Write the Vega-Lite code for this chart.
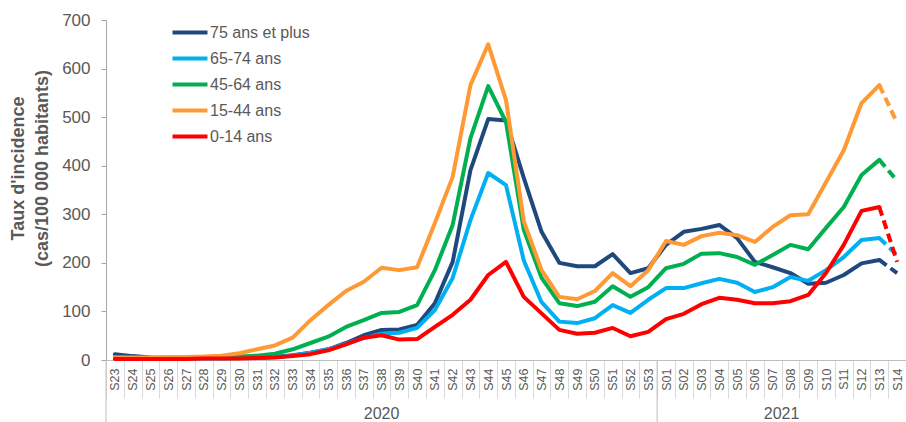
{
  "$schema": "https://vega.github.io/schema/vega-lite/v6.json",
  "width": 800,
  "height": 340,
  "autosize": {"type": "none"},
  "padding": {"left": 106, "top": 20, "right": 0, "bottom": 62},
  "background": "white",
  "config": {
    "font": "Liberation Sans",
    "view": {"stroke": null},
    "axis": {"grid": false}
  },
  "datasets": {
    "taux": [
      {"week": "S23", "75 ans et plus": 12, "65-74 ans": 5, "45-64 ans": 4, "15-44 ans": 5, "0-14 ans": 2},
      {"week": "S24", "75 ans et plus": 8, "65-74 ans": 4, "45-64 ans": 4, "15-44 ans": 5, "0-14 ans": 2},
      {"week": "S25", "75 ans et plus": 5, "65-74 ans": 3, "45-64 ans": 4, "15-44 ans": 5, "0-14 ans": 2},
      {"week": "S26", "75 ans et plus": 4, "65-74 ans": 3, "45-64 ans": 4, "15-44 ans": 6, "0-14 ans": 2},
      {"week": "S27", "75 ans et plus": 4, "65-74 ans": 3, "45-64 ans": 5, "15-44 ans": 6, "0-14 ans": 2},
      {"week": "S28", "75 ans et plus": 4, "65-74 ans": 3, "45-64 ans": 5, "15-44 ans": 7, "0-14 ans": 3},
      {"week": "S29", "75 ans et plus": 4, "65-74 ans": 3, "45-64 ans": 6, "15-44 ans": 9, "0-14 ans": 3},
      {"week": "S30", "75 ans et plus": 4, "65-74 ans": 4, "45-64 ans": 7, "15-44 ans": 14, "0-14 ans": 3},
      {"week": "S31", "75 ans et plus": 5, "65-74 ans": 4, "45-64 ans": 9, "15-44 ans": 22, "0-14 ans": 4},
      {"week": "S32", "75 ans et plus": 6, "65-74 ans": 6, "45-64 ans": 13, "15-44 ans": 30, "0-14 ans": 5},
      {"week": "S33", "75 ans et plus": 10, "65-74 ans": 9, "45-64 ans": 22, "15-44 ans": 46, "0-14 ans": 8},
      {"week": "S34", "75 ans et plus": 15, "65-74 ans": 15, "45-64 ans": 35, "15-44 ans": 82, "0-14 ans": 12},
      {"week": "S35", "75 ans et plus": 22, "65-74 ans": 22, "45-64 ans": 48, "15-44 ans": 113, "0-14 ans": 20},
      {"week": "S36", "75 ans et plus": 35, "65-74 ans": 33, "45-64 ans": 68, "15-44 ans": 142, "0-14 ans": 32},
      {"week": "S37", "75 ans et plus": 51, "65-74 ans": 45, "45-64 ans": 82, "15-44 ans": 161, "0-14 ans": 46},
      {"week": "S38", "75 ans et plus": 62, "65-74 ans": 54, "45-64 ans": 97, "15-44 ans": 190, "0-14 ans": 51},
      {"week": "S39", "75 ans et plus": 63, "65-74 ans": 56, "45-64 ans": 99, "15-44 ans": 185, "0-14 ans": 42},
      {"week": "S40", "75 ans et plus": 72, "65-74 ans": 66, "45-64 ans": 113, "15-44 ans": 191, "0-14 ans": 43},
      {"week": "S41", "75 ans et plus": 117, "65-74 ans": 103, "45-64 ans": 185, "15-44 ans": 282, "0-14 ans": 68},
      {"week": "S42", "75 ans et plus": 202, "65-74 ans": 169, "45-64 ans": 278, "15-44 ans": 377, "0-14 ans": 93},
      {"week": "S43", "75 ans et plus": 391, "65-74 ans": 288, "45-64 ans": 457, "15-44 ans": 566, "0-14 ans": 124},
      {"week": "S44", "75 ans et plus": 496, "65-74 ans": 385, "45-64 ans": 564, "15-44 ans": 650, "0-14 ans": 175},
      {"week": "S45", "75 ans et plus": 493, "65-74 ans": 360, "45-64 ans": 490, "15-44 ans": 535, "0-14 ans": 202},
      {"week": "S46", "75 ans et plus": 375, "65-74 ans": 205, "45-64 ans": 268, "15-44 ans": 286, "0-14 ans": 130},
      {"week": "S47", "75 ans et plus": 264, "65-74 ans": 119, "45-64 ans": 169, "15-44 ans": 185, "0-14 ans": 96},
      {"week": "S48", "75 ans et plus": 200, "65-74 ans": 79, "45-64 ans": 117, "15-44 ans": 130, "0-14 ans": 62},
      {"week": "S49", "75 ans et plus": 193, "65-74 ans": 76, "45-64 ans": 111, "15-44 ans": 125, "0-14 ans": 54},
      {"week": "S50", "75 ans et plus": 193, "65-74 ans": 86, "45-64 ans": 120, "15-44 ans": 142, "0-14 ans": 56},
      {"week": "S51", "75 ans et plus": 218, "65-74 ans": 113, "45-64 ans": 152, "15-44 ans": 179, "0-14 ans": 66},
      {"week": "S52", "75 ans et plus": 179, "65-74 ans": 97, "45-64 ans": 130, "15-44 ans": 152, "0-14 ans": 49},
      {"week": "S53", "75 ans et plus": 189, "65-74 ans": 124, "45-64 ans": 150, "15-44 ans": 185, "0-14 ans": 58},
      {"week": "S01", "75 ans et plus": 237, "65-74 ans": 148, "45-64 ans": 189, "15-44 ans": 245, "0-14 ans": 84},
      {"week": "S02", "75 ans et plus": 264, "65-74 ans": 148, "45-64 ans": 198, "15-44 ans": 237, "0-14 ans": 95},
      {"week": "S03", "75 ans et plus": 270, "65-74 ans": 158, "45-64 ans": 219, "15-44 ans": 255, "0-14 ans": 115},
      {"week": "S04", "75 ans et plus": 278, "65-74 ans": 167, "45-64 ans": 220, "15-44 ans": 262, "0-14 ans": 128},
      {"week": "S05", "75 ans et plus": 251, "65-74 ans": 159, "45-64 ans": 212, "15-44 ans": 257, "0-14 ans": 124},
      {"week": "S06", "75 ans et plus": 202, "65-74 ans": 140, "45-64 ans": 196, "15-44 ans": 243, "0-14 ans": 117},
      {"week": "S07", "75 ans et plus": 191, "65-74 ans": 150, "45-64 ans": 216, "15-44 ans": 274, "0-14 ans": 117},
      {"week": "S08", "75 ans et plus": 179, "65-74 ans": 171, "45-64 ans": 237, "15-44 ans": 298, "0-14 ans": 121},
      {"week": "S09", "75 ans et plus": 157, "65-74 ans": 163, "45-64 ans": 228, "15-44 ans": 300, "0-14 ans": 134},
      {"week": "S10", "75 ans et plus": 159, "65-74 ans": 185, "45-64 ans": 272, "15-44 ans": 366, "0-14 ans": 179},
      {"week": "S11", "75 ans et plus": 175, "65-74 ans": 212, "45-64 ans": 315, "15-44 ans": 432, "0-14 ans": 237},
      {"week": "S12", "75 ans et plus": 199, "65-74 ans": 247, "45-64 ans": 381, "15-44 ans": 529, "0-14 ans": 307},
      {"week": "S13", "75 ans et plus": 206, "65-74 ans": 251, "45-64 ans": 412, "15-44 ans": 566, "0-14 ans": 315},
      {"week": "S14", "75 ans et plus": 179, "65-74 ans": 216, "45-64 ans": 369, "15-44 ans": 488, "0-14 ans": 202}
    ]
  },
  "layer": [
    {
      "data": {"name": "taux"},
      "transform": [
        {"fold": ["75 ans et plus", "65-74 ans", "45-64 ans", "15-44 ans", "0-14 ans"], "as": ["groupe", "taux"]},
        {"filter": "datum.week !== 'S14'"}
      ],
      "mark": {"type": "line", "strokeWidth": 4, "strokeJoin": "round", "strokeCap": "round"},
      "encoding": {
        "x": {"field": "week", "type": "ordinal", "bandPosition": 0.5,
          "scale": {"type": "band", "paddingInner": 0, "paddingOuter": 0,
            "domain": ["S23","S24","S25","S26","S27","S28","S29","S30","S31","S32","S33","S34","S35","S36","S37","S38","S39","S40","S41","S42","S43","S44","S45","S46","S47","S48","S49","S50","S51","S52","S53","S01","S02","S03","S04","S05","S06","S07","S08","S09","S10","S11","S12","S13","S14"]},
          "axis": {"title": null, "labelAngle": -90, "labelFontSize": 12.5, "labelColor": "#595959",
            "tickBand": "extent", "tickSize": 38, "tickColor": "#D9D9D9", "domainColor": "#BFBFBF",
            "labelPadding": -30, "labelAlign": "right", "labelBaseline": "middle"}},
        "y": {"field": "taux", "type": "quantitative",
          "scale": {"domain": [0, 700], "nice": false},
          "axis": {"values": [0, 100, 200, 300, 400, 500, 600, 700], "labelFontSize": 17, "labelColor": "#595959",
            "tickSize": 5, "tickColor": "#A6A6A6", "domainColor": "#A6A6A6", "labelPadding": 11,
            "title": ["Taux d'incidence", "(cas/100 000 habitants)"], "titleFontSize": 18, "titleFontWeight": "bold",
            "titleColor": "#595959", "titleLineHeight": 24, "titleAngle": -90, "titleBaseline": "top",
            "titleAlign": "center", "titleX": -97, "titleY": 148}},
        "color": {"field": "groupe", "type": "nominal",
          "scale": {"domain": ["75 ans et plus", "65-74 ans", "45-64 ans", "15-44 ans", "0-14 ans"],
            "range": ["#1F497D", "#00B0F0", "#00B050", "#FF9933", "#FF0000"]},
          "legend": {"title": null, "orient": "none", "legendX": 76, "legendY": 4.5,
            "labelFontSize": 16, "labelColor": "#595959", "symbolType": "M-3,0H3", "symbolSize": 136,
            "symbolStrokeWidth": 4, "labelOffset": 12, "rowPadding": 10}}
      }
    },
    {
      "data": {"name": "taux"},
      "transform": [
        {"fold": ["75 ans et plus", "65-74 ans", "45-64 ans", "15-44 ans", "0-14 ans"], "as": ["groupe", "taux"]},
        {"filter": "datum.week === 'S13' || datum.week === 'S14'"}
      ],
      "mark": {"type": "line", "strokeWidth": 4, "strokeDash": [9, 5]},
      "encoding": {
        "x": {"field": "week", "type": "ordinal", "bandPosition": 0.5,
          "scale": {"type": "band", "paddingInner": 0, "paddingOuter": 0,
            "domain": ["S23","S24","S25","S26","S27","S28","S29","S30","S31","S32","S33","S34","S35","S36","S37","S38","S39","S40","S41","S42","S43","S44","S45","S46","S47","S48","S49","S50","S51","S52","S53","S01","S02","S03","S04","S05","S06","S07","S08","S09","S10","S11","S12","S13","S14"]}},
        "y": {"field": "taux", "type": "quantitative", "scale": {"domain": [0, 700], "nice": false}},
        "color": {"field": "groupe", "type": "nominal",
          "scale": {"domain": ["75 ans et plus", "65-74 ans", "45-64 ans", "15-44 ans", "0-14 ans"],
            "range": ["#1F497D", "#00B0F0", "#00B050", "#FF9933", "#FF0000"]}}
      }
    },
    {
      "data": {"values": [{"week": "S23"}, {"week": "S01"}]},
      "mark": {"type": "rule", "color": "#BFBFBF", "strokeWidth": 1},
      "encoding": {
        "x": {"field": "week", "type": "ordinal", "bandPosition": 0,
          "scale": {"type": "band", "paddingInner": 0, "paddingOuter": 0,
            "domain": ["S23","S24","S25","S26","S27","S28","S29","S30","S31","S32","S33","S34","S35","S36","S37","S38","S39","S40","S41","S42","S43","S44","S45","S46","S47","S48","S49","S50","S51","S52","S53","S01","S02","S03","S04","S05","S06","S07","S08","S09","S10","S11","S12","S13","S14"]}},
        "y": {"datum": 0, "type": "quantitative", "scale": {"domain": [0, 700], "nice": false}},
        "y2": {"datum": -135}
      }
    },
    {
      "data": {"values": [{"annee": "2020", "week": "S38"}]},
      "mark": {"type": "text", "fontSize": 16, "color": "#595959", "baseline": "middle", "align": "center"},
      "encoding": {
        "x": {"field": "week", "type": "ordinal", "bandPosition": 0.5,
          "scale": {"type": "band", "paddingInner": 0, "paddingOuter": 0,
            "domain": ["S23","S24","S25","S26","S27","S28","S29","S30","S31","S32","S33","S34","S35","S36","S37","S38","S39","S40","S41","S42","S43","S44","S45","S46","S47","S48","S49","S50","S51","S52","S53","S01","S02","S03","S04","S05","S06","S07","S08","S09","S10","S11","S12","S13","S14"]}},
        "y": {"datum": -111, "type": "quantitative", "scale": {"domain": [0, 700], "nice": false}},
        "text": {"field": "annee"}
      }
    },
    {
      "data": {"values": [{"annee": "2021", "week": "S07"}]},
      "mark": {"type": "text", "fontSize": 16, "color": "#595959", "baseline": "middle", "align": "center"},
      "encoding": {
        "x": {"field": "week", "type": "ordinal", "bandPosition": 1,
          "scale": {"type": "band", "paddingInner": 0, "paddingOuter": 0,
            "domain": ["S23","S24","S25","S26","S27","S28","S29","S30","S31","S32","S33","S34","S35","S36","S37","S38","S39","S40","S41","S42","S43","S44","S45","S46","S47","S48","S49","S50","S51","S52","S53","S01","S02","S03","S04","S05","S06","S07","S08","S09","S10","S11","S12","S13","S14"]}},
        "y": {"datum": -111, "type": "quantitative", "scale": {"domain": [0, 700], "nice": false}},
        "text": {"field": "annee"}
      }
    }
  ]
}
